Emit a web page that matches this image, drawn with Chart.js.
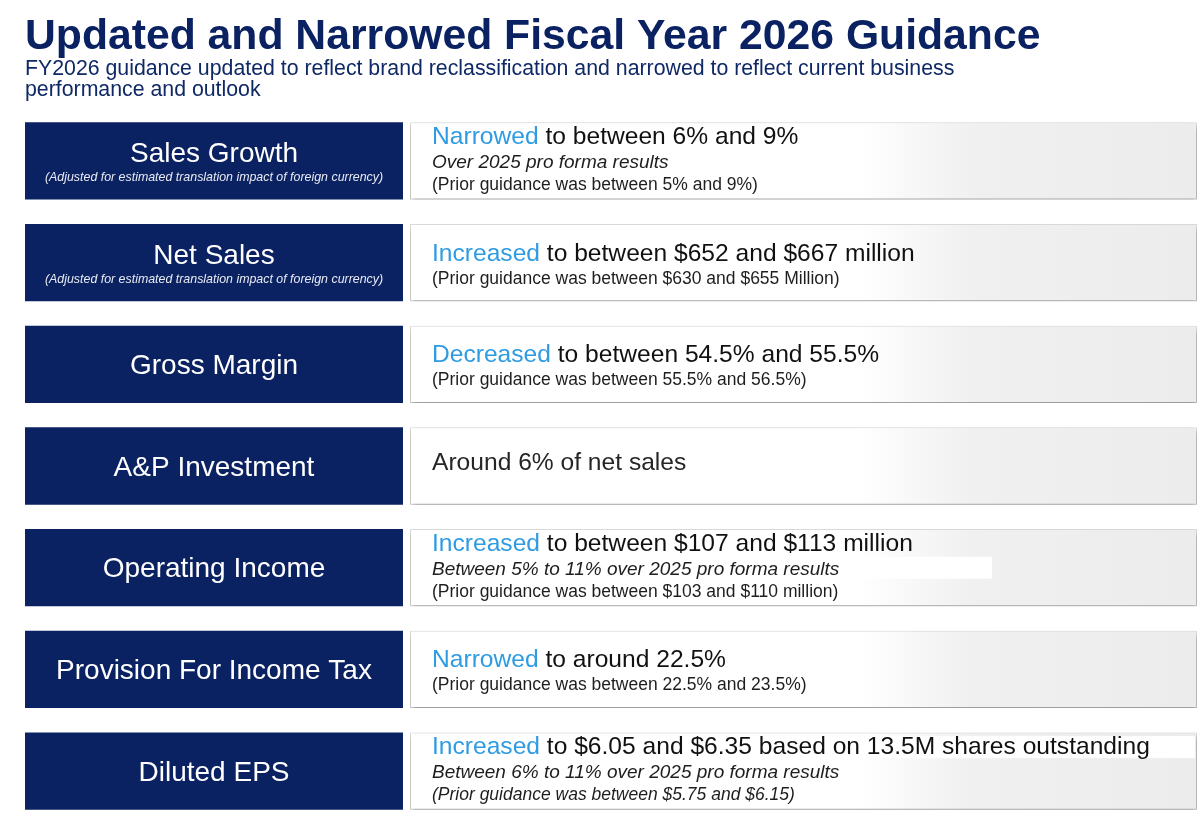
<!DOCTYPE html>
<html>
<head>
<meta charset="utf-8">
<script src="https://cdn.jsdelivr.net/npm/chart.js@4.4.0/dist/chart.umd.min.js"></script>
<style>
  html, body { margin: 0; padding: 0; background: #fff; }
  #guidanceChart { display: block; }
</style>
</head>
<body>
<canvas id="guidanceChart" width="1200" height="822"></canvas>
<script>
// slide text
const titleText = 'Updated and Narrowed Fiscal Year 2026 Guidance';
const subtitleLines = [
    'FY2026 guidance updated to reflect brand reclassification and narrowed to reflect current business',
    'performance and outlook'
];

// one row per guidance metric
const metrics = ['Sales Growth', 'Net Sales', 'Gross Margin', 'A&P Investment',
    'Operating Income', 'Provision For Income Tax', 'Diluted EPS'];
const metricNotes = [
    '(Adjusted for estimated translation impact of foreign currency)',
    '(Adjusted for estimated translation impact of foreign currency)',
    '', '', '', '', ''
];
const changeWords = ['Narrowed', 'Increased', 'Decreased', '', 'Increased', 'Narrowed', 'Increased'];
const guidanceText = [
    'to between 6% and 9%',
    'to between $652 and $667 million',
    'to between 54.5% and 55.5%',
    'Around 6% of net sales',
    'to between $107 and $113 million',
    'to around 22.5%',
    'to $6.05 and $6.35 based on 13.5M shares outstanding'
];
const proFormaText = [
    'Over 2025 pro forma results', '', '', '',
    'Between 5% to 11% over 2025 pro forma results', '',
    'Between 6% to 11% over 2025 pro forma results'
];
const priorText = [
    '(Prior guidance was between 5% and 9%)',
    '(Prior guidance was between $630 and $655 Million)',
    '(Prior guidance was between 55.5% and 56.5%)',
    '',
    '(Prior guidance was between $103 and $110 million)',
    '(Prior guidance was between 22.5% and 23.5%)',
    '(Prior guidance was between $5.75 and $6.15)'
];
const priorItalic = [false, false, false, false, false, false, true];

const NAVY = '#0b2262';
const BLUE = '#2e9be2';
const FONT = '"Liberation Sans", Arial, sans-serif';

// panel spans on the hidden x scale
const labelSpan = [0, 378];
const detailSpan = [385, 1172];

// white strips pasted behind some text lines in the original slide
const textPatches = [
    { row: 4, line: 1, right: 992 },
    { row: 6, line: 0, right: 1195 }
];

function detailFill(context) {
    const chart = context.chart;
    const area = chart.chartArea;
    if (!area) return '#ffffff';
    const g = chart.ctx.createLinearGradient(area.left, 0, area.right, 0);
    g.addColorStop(0, '#ffffff');
    g.addColorStop(0.71, '#ffffff');
    g.addColorStop(0.81, '#f0f0f0');
    g.addColorStop(1, '#ececec');
    return g;
}

const shadowPlugin = {
    id: 'panelShadow',
    beforeDatasetDraw(chart, args) {
        if (args.index !== 1) return;
        const c = chart.ctx;
        c.save();
        c.shadowColor = 'rgba(0,0,0,0.32)';
        c.shadowBlur = 6;
        c.shadowOffsetX = 1;
        c.shadowOffsetY = 4;
    },
    afterDatasetDraw(chart, args) {
        if (args.index !== 1) return;
        chart.ctx.restore();
    }
};

const textPlugin = {
    id: 'slideText',
    afterDraw(chart) {
        const c = chart.ctx;
        const xs = chart.scales.x;
        const ys = chart.scales.y;
        c.save();
        c.textBaseline = 'alphabetic';

        // title + subtitle
        c.fillStyle = NAVY;
        c.textAlign = 'left';
        c.font = 'bold 42.7px ' + FONT;
        c.fillText(titleText, 25, 49);
        c.font = '21.3px ' + FONT;
        c.fillStyle = '#0f2866';
        c.fillText(subtitleLines[0], 25, 75);
        c.fillText(subtitleLines[1], 25, 96);

        metrics.forEach(function (name, i) {
            const cy = ys.getPixelForValue(i);
            const cx = (xs.getPixelForValue(labelSpan[0]) + xs.getPixelForValue(labelSpan[1])) / 2;

            // navy label
            c.textAlign = 'center';
            c.fillStyle = '#ffffff';
            c.font = '28px ' + FONT;
            if (metricNotes[i]) {
                c.fillText(name, cx, cy + 1);
                c.font = 'italic 12.4px ' + FONT;
                c.fillStyle = '#e8ebf3';
                c.fillText(metricNotes[i], cx, cy + 20);
            } else {
                c.fillText(name, cx, cy + 9.5);
            }

            // detail text
            const x0 = xs.getPixelForValue(detailSpan[0]) + 22;
            const lines = [{ kind: 'main' }];
            if (proFormaText[i]) lines.push({ kind: 'pro' });
            if (priorText[i]) lines.push({ kind: 'prior' });
            const offsets = { 1: [4], 2: [-2, 21], 3: [-17, 7, 29] }[lines.length];

            lines.forEach(function (ln, k) {
                const by = cy + offsets[k];
                textPatches.forEach(function (p) {
                    if (p.row === i && p.line === k) {
                        c.fillStyle = '#ffffff';
                        c.fillRect(x0 - 18, by - 18, p.right - x0 + 18, 22);
                    }
                });
                c.textAlign = 'left';
                if (ln.kind === 'main') {
                    c.font = '24.6px ' + FONT;
                    let x = x0;
                    if (changeWords[i]) {
                        c.fillStyle = BLUE;
                        c.fillText(changeWords[i], x, by);
                        x += c.measureText(changeWords[i] + ' ').width;
                    }
                    c.fillStyle = changeWords[i] ? '#111111' : '#262626';
                    c.fillText(guidanceText[i], x, by);
                } else if (ln.kind === 'pro') {
                    c.font = 'italic 19px ' + FONT;
                    c.fillStyle = '#1e1e1e';
                    c.fillText(proFormaText[i], x0, by);
                } else {
                    c.font = (priorItalic[i] ? 'italic ' : '') + '17.5px ' + FONT;
                    c.fillStyle = '#1e1e1e';
                    c.fillText(priorText[i], x0, by);
                }
            });
        });
        c.restore();
    }
};

new Chart(document.getElementById('guidanceChart'), {
    type: 'bar',
    data: {
        labels: metrics,
        datasets: [{
            label: 'Metric',
            data: metrics.map(function () { return labelSpan; }),
            backgroundColor: NAVY,
            borderWidth: 0
        }, {
            label: 'Guidance',
            data: metrics.map(function () { return detailSpan; }),
            backgroundColor: detailFill,
            borderColor: '#dddddd',
            borderWidth: 1,
            borderSkipped: false
        }]
    },
    options: {
        indexAxis: 'y',
        responsive: false,
        animation: false,
        grouped: false,
        barPercentage: 0.76,
        categoryPercentage: 1,
        layout: { padding: { top: 110, left: 25, right: 3, bottom: 0 } },
        scales: {
            x: { display: false, min: 0, max: 1172 },
            y: { display: false }
        },
        plugins: {
            legend: { display: false },
            tooltip: { enabled: false }
        }
    },
    plugins: [shadowPlugin, textPlugin]
});
</script>
</body>
</html>
